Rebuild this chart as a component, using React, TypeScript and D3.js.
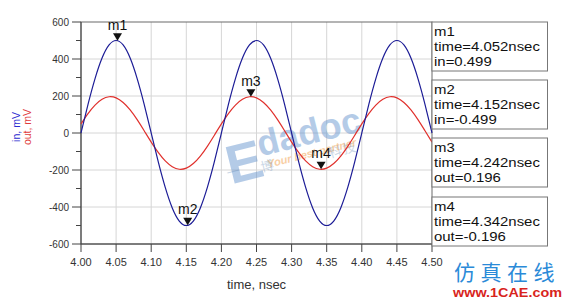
import React from "react";
import * as d3 from "d3";

const times = [
  4.0, 4.01, 4.02, 4.03, 4.04, 4.05, 4.06, 4.07, 4.08, 4.09,
  4.1, 4.11, 4.12, 4.13, 4.14, 4.15, 4.16, 4.17, 4.18, 4.19,
  4.2, 4.21, 4.22, 4.23, 4.24, 4.25, 4.26, 4.27, 4.28, 4.29,
  4.3, 4.31, 4.32, 4.33, 4.34, 4.35, 4.36, 4.37, 4.38, 4.39,
  4.4, 4.41, 4.42, 4.43, 4.44, 4.45, 4.46, 4.47, 4.48, 4.49, 4.5,
];
const inValues = [
  0, 155, 294, 405, 476, 500, 476, 405, 294, 155,
  0, -155, -294, -405, -476, -500, -476, -405, -294, -155,
  0, 155, 294, 405, 476, 500, 476, 405, 294, 155,
  0, -155, -294, -405, -476, -500, -476, -405, -294, -155,
  0, 155, 294, 405, 476, 500, 476, 405, 294, 155, 0,
];
const outValues = [
  49, 105, 151, 182, 196, 190, 165, 125, 72, 12,
  -49, -105, -151, -182, -196, -190, -165, -125, -72, -12,
  49, 105, 151, 182, 196, 190, 165, 125, 72, 12,
  -49, -105, -151, -182, -196, -190, -165, -125, -72, -12,
  49, 105, 151, 182, 196, 190, 165, 125, 72, 12, -49,
];
const xTicks = [4.0, 4.05, 4.1, 4.15, 4.2, 4.25, 4.3, 4.35, 4.4, 4.45, 4.5];
const yTicks = [-600, -400, -200, 0, 200, 400, 600];
const yMinorTicks = [-500, -300, -100, 100, 300, 500];

const markerNames = ["m1", "m2", "m3", "m4"];
const markerTimes = [4.052, 4.152, 4.242, 4.342];
const markerValues = [499, -499, 196, -196];
const markerTrace = ["in", "in", "out", "out"];
const markerReadout = ["0.499", "-0.499", "0.196", "-0.196"];

const BLUE = "#1c1c96";
const RED = "#e0302c";
const FONT = "Arial, 'Liberation Sans', sans-serif";

export default function App() {
  const W = 567;
  const H = 300;
  const x = d3.scaleLinear().domain([4.0, 4.5]).range([81, 432]);
  const y = d3.scaleLinear().domain([-600, 600]).range([244, 22]);

  const line = d3
    .line<number>()
    .x((_, i) => x(times[i]))
    .y((d) => y(d))
    .curve(d3.curveNatural);

  const boxTop = [22, 80, 138, 197];

  return (
    <svg
      width={W}
      height={H}
      style={{ position: "absolute", left: 0, top: 0, background: "#fff" }}
      fontFamily={FONT}
    >
      <rect x={0} y={0} width={W} height={H} fill="#fff" />
      {/* grid */}
      {xTicks.slice(1, -1).map((t) => (
        <line key={"gx" + t} x1={x(t)} x2={x(t)} y1={y(600)} y2={y(-600)} stroke="#d6d6d6" strokeWidth={1} />
      ))}
      {yTicks.slice(1, -1).map((v) => (
        <line key={"gy" + v} x1={x(4.0)} x2={x(4.5)} y1={y(v)} y2={y(v)} stroke="#d6d6d6" strokeWidth={1} />
      ))}

      {/* watermark */}
      <g transform="rotate(-14 285 140)" opacity={0.5}>
        <text x={222} y={170} fontSize={54} fontWeight="bold" fill="#6b98d0" fontFamily={FONT}>E</text>
        <text x={257} y={150} fontSize={36} fontWeight="bold" fill="#6b98d0" fontFamily={FONT}>dadoc</text>
        <text x={262} y={163} fontSize={11} fontWeight="bold" fontStyle="italic" fill="#f3a04a" fontFamily={FONT}>Your best partner</text>
      </g>
      <g opacity={0.35} fill="#6b8fb8" fontFamily="'Noto Sans CJK SC', sans-serif" fontSize={13}>
        <text x={228} y={178} transform="rotate(-14 228 178)">一</text>
        <text x={262} y={172} transform="rotate(-14 262 172)">博</text>
        <text x={330} y={158} transform="rotate(-14 330 158)">科</text>
        <text x={344} y={154} transform="rotate(-14 344 154)">技</text>
      </g>

      {/* frame */}
      <rect x={x(4.0)} y={y(600)} width={x(4.5) - x(4.0)} height={y(-600) - y(600)} fill="none" stroke="#6a6a6a" strokeWidth={1} />
      <line x1={x(4.0)} x2={x(4.0)} y1={y(600)} y2={y(-600)} stroke="#444" />
      <line x1={x(4.0)} x2={x(4.5)} y1={y(-600)} y2={y(-600)} stroke="#444" />

      {/* y ticks */}
      {yTicks.map((v) => (
        <g key={"yt" + v}>
          <line x1={x(4.0) - 9} x2={x(4.0)} y1={y(v)} y2={y(v)} stroke="#444" />
          <text x={69} y={y(v)} dy="0.35em" textAnchor="end" fontSize={10} fill="#333">
            {v}
          </text>
        </g>
      ))}
      {yMinorTicks.map((v) => (
        <line key={"ym" + v} x1={x(4.0) - 5} x2={x(4.0)} y1={y(v)} y2={y(v)} stroke="#444" />
      ))}

      {/* x ticks */}
      {xTicks.map((t) => (
        <g key={"xt" + t}>
          <line x1={x(t)} x2={x(t)} y1={y(-600)} y2={y(-600) + 8} stroke="#444" />
          <text x={x(t)} y={266} textAnchor="middle" fontSize={11} fill="#333">
            {t.toFixed(2)}
          </text>
        </g>
      ))}
      <text x={(x(4.0) + x(4.5)) / 2} y={289} textAnchor="middle" fontSize={13} fill="#333">
        time, nsec
      </text>

      {/* y labels */}
      <text transform="translate(20 127) rotate(-90)" textAnchor="middle" fontSize={10.5} fill="#2a2ad0">
        in, mV
      </text>
      <text transform="translate(31 127) rotate(-90)" textAnchor="middle" fontSize={10.5} fill="#e03a3a">
        out, mV
      </text>

      {/* traces */}
      <path d={line(outValues) || ""} fill="none" stroke={RED} strokeWidth={1.2} />
      <path d={line(inValues) || ""} fill="none" stroke={BLUE} strokeWidth={1.2} />

      {/* markers */}
      {markerNames.map((m, i) => {
        const mx = x(markerTimes[i]);
        const my = y(markerValues[i]);
        return (
          <g key={m}>
            <path d={`M${mx},${my} L${mx - 4.5},${my - 7.5} L${mx + 4.5},${my - 7.5} Z`} fill="#111" />
            <text x={mx} y={my - 11} textAnchor="middle" fontSize={14} fill="#111">
              {m}
            </text>
          </g>
        );
      })}

      {/* readout boxes */}
      {markerNames.map((m, i) => (
        <g key={"box" + m}>
          <rect x={432} y={boxTop[i]} width={115.5} height={49} fill="#fff" stroke="#777" strokeWidth={1} />
          <g transform={`translate(434 ${boxTop[i]}) scale(1.15 1)`} fontSize={13} fill="#111">
            <text x={0} y={13.7}>{m}</text>
            <text x={0} y={29.2}>{"time=" + markerTimes[i].toFixed(3) + "nsec"}</text>
            <text x={0} y={44}>{markerTrace[i] + "=" + markerReadout[i]}</text>
          </g>
        </g>
      ))}

      {/* site mark */}
      <text x={454} y={280} fontSize={21} fill="#2a8ad8" letterSpacing={5.5} fontFamily="'Noto Sans CJK SC', sans-serif">
        仿真在线
      </text>
      <text x={453} y={297} fontSize={13} fontWeight="bold" fill="#d8241c" textLength={109} lengthAdjust="spacingAndGlyphs">
        www.1CAE.com
      </text>
    </svg>
  );
}
